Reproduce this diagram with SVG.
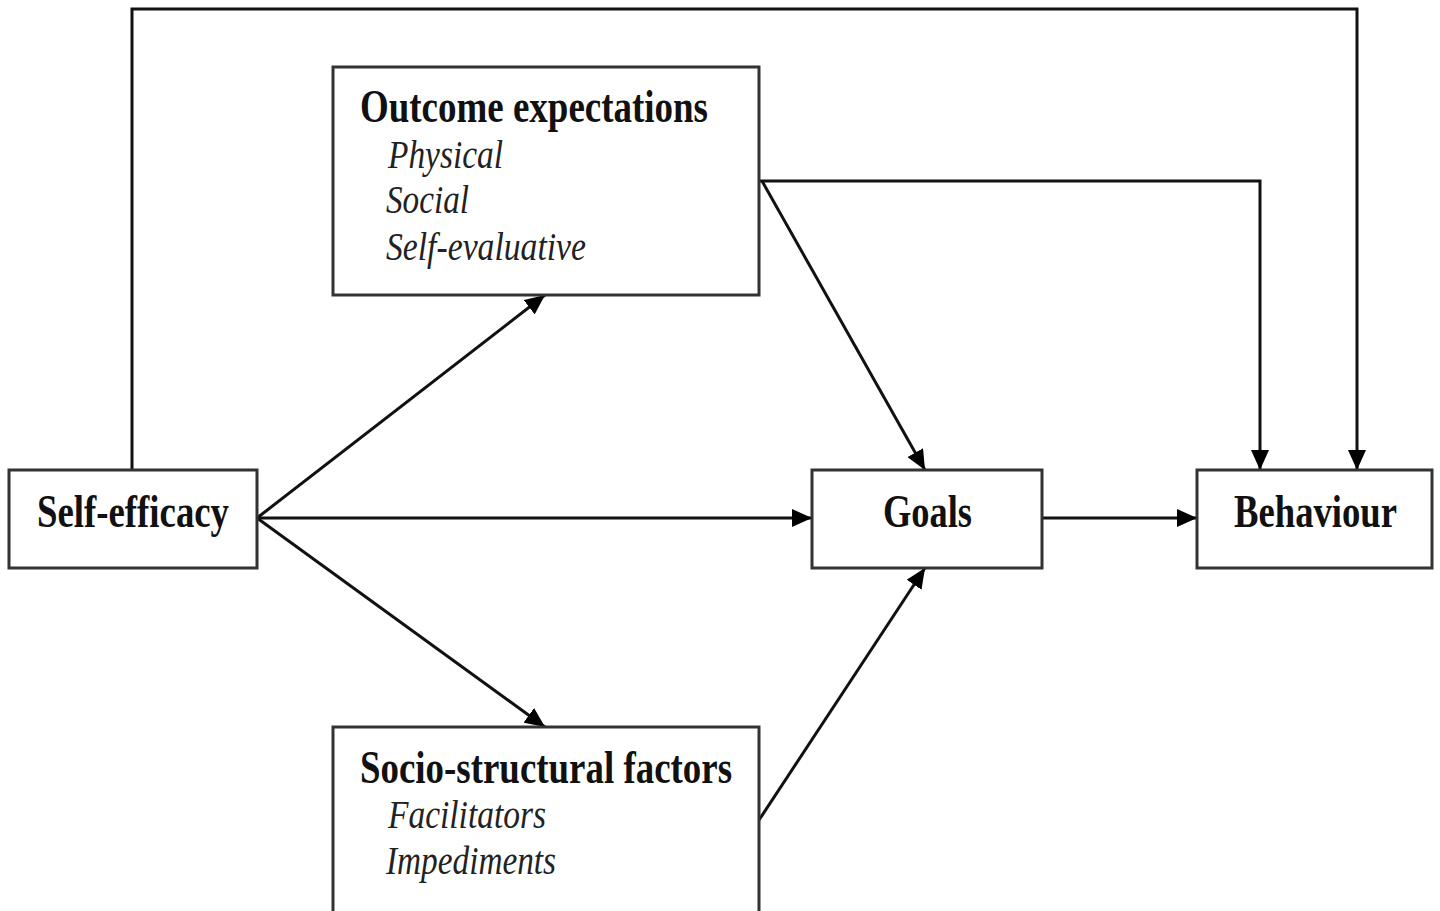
<svg xmlns="http://www.w3.org/2000/svg" width="1440" height="911" viewBox="0 0 1440 911">
<style>
.box{fill:#fff;stroke:#333;stroke-width:3}
.edge{fill:none;stroke:#111;stroke-width:3}
.t{font-family:"Liberation Serif","Times New Roman",serif;fill:#111}
.b{font-weight:bold;font-size:46px}
.i{font-style:italic;font-size:40px;fill:#222}
</style>
<defs>
<marker id="ah" viewBox="0 0 20 18" refX="20" refY="9" markerWidth="20" markerHeight="18" markerUnits="userSpaceOnUse" orient="auto">
<path d="M0,0 L20,9 L0,18 Z" fill="#000"/>
</marker>
</defs>
<rect width="1440" height="911" fill="#fff"/>
<g id="connectors">
<polyline class="edge" points="132,470 132,9 1357,9 1357,470" marker-end="url(#ah)"/>
<polyline class="edge" points="760,181 1260,181 1260,470" marker-end="url(#ah)"/>
<line class="edge" x1="762" y1="181" x2="925" y2="470" marker-end="url(#ah)"/>
<line class="edge" x1="257" y1="518" x2="545" y2="295" marker-end="url(#ah)"/>
<line class="edge" x1="257" y1="518" x2="812" y2="518" marker-end="url(#ah)"/>
<line class="edge" x1="257" y1="518" x2="545" y2="727" marker-end="url(#ah)"/>
<line class="edge" x1="759" y1="820" x2="925" y2="568" marker-end="url(#ah)"/>
<line class="edge" x1="1042" y1="518" x2="1197" y2="518" marker-end="url(#ah)"/>
</g>
<g id="outcome">
<rect class="box" x="333" y="67" width="426" height="228"/>
<text class="t b" x="360" y="122" textLength="348" lengthAdjust="spacingAndGlyphs">Outcome expectations</text>
<text class="t i" x="388" y="168" textLength="115" lengthAdjust="spacingAndGlyphs">Physical</text>
<text class="t i" x="386" y="213" textLength="83" lengthAdjust="spacingAndGlyphs">Social</text>
<text class="t i" x="386" y="260" textLength="200" lengthAdjust="spacingAndGlyphs">Self-evaluative</text>
</g>
<g id="selfefficacy">
<rect class="box" x="9" y="470" width="248" height="98"/>
<text class="t b" x="37" y="527" textLength="192" lengthAdjust="spacingAndGlyphs">Self-efficacy</text>
</g>
<g id="goals">
<rect class="box" x="812" y="470" width="230" height="98"/>
<text class="t b" x="883" y="527" textLength="89" lengthAdjust="spacingAndGlyphs">Goals</text>
</g>
<g id="behaviour">
<rect class="box" x="1197" y="470" width="235" height="98"/>
<text class="t b" x="1234" y="527" textLength="163" lengthAdjust="spacingAndGlyphs">Behaviour</text>
</g>
<g id="socio">
<rect class="box" x="333" y="727" width="426" height="200"/>
<text class="t b" x="360" y="783" textLength="372" lengthAdjust="spacingAndGlyphs">Socio-structural factors</text>
<text class="t i" x="388" y="828" textLength="158" lengthAdjust="spacingAndGlyphs">Facilitators</text>
<text class="t i" x="386" y="874" textLength="170" lengthAdjust="spacingAndGlyphs">Impediments</text>
</g>
</svg>
